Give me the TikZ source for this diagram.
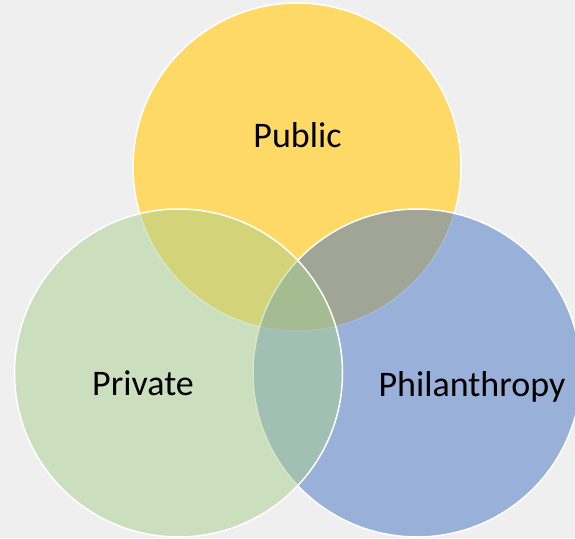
\documentclass[tikz,border=0pt]{standalone}
\usepackage{fontspec}
\setmainfont{Carlito}
\definecolor{bggray}{HTML}{EFEFEF}
\definecolor{pubyellow}{HTML}{FFD966}
\definecolor{privgreen}{HTML}{A9D18E}
\definecolor{philblue}{HTML}{4472C4}
\begin{document}
\begin{tikzpicture}[
    x=1pt, y=-1pt,
    set/.style={circle, draw=white, line width=1.5pt, minimum size=328pt, inner sep=0pt},
    setname/.style={anchor=base, inner sep=0pt, font=\fontsize{36}{43}\selectfont},
]
\useasboundingbox (0,0) rectangle (575,538);
\fill[bggray] (0,0) rectangle (575,538);

% Sets
\node[set, fill=pubyellow] (pub) at (297,167) {};
\node[set, fill=philblue, fill opacity=0.5] (phil) at (417,373) {};
\node[set, fill=privgreen, fill opacity=0.5] (priv) at (178.5,373) {};

% Labels
\node[setname] (pubname) at (297.5,147) {Public};
\node[setname] (privname) at (143,395) {Private};
\node[setname] (philname) at (472,396) {Philanthropy};
\end{tikzpicture}
\end{document}
